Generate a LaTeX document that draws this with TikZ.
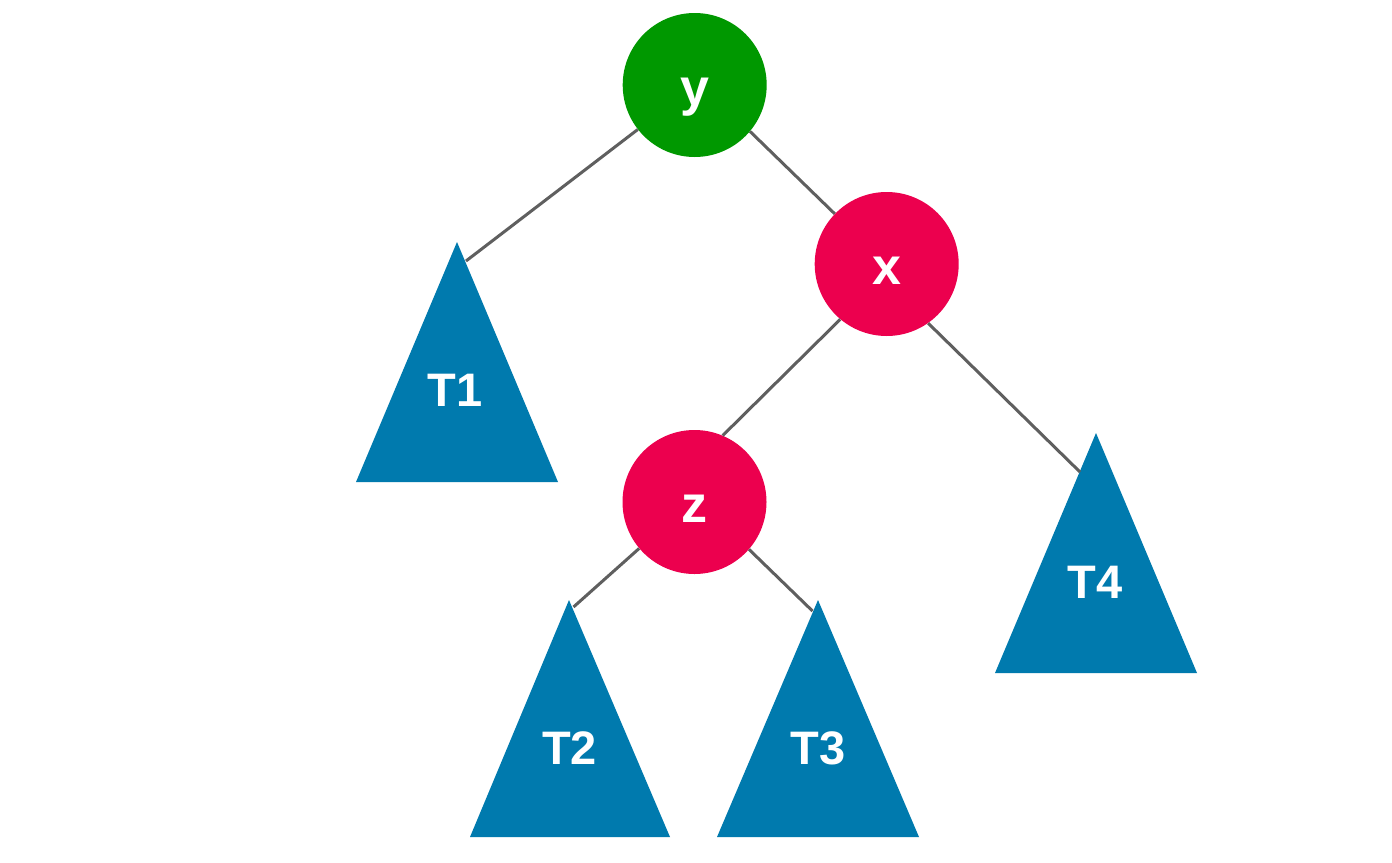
\documentclass[tikz,border=0pt]{standalone}
\usepackage{fontspec}
\setmainfont{Liberation Sans}
\definecolor{ngreen}{RGB}{0,152,0}
\definecolor{nred}{RGB}{236,0,78}
\definecolor{tblue}{RGB}{0,122,174}
\definecolor{edgegray}{RGB}{95,95,95}
\begin{document}
\begin{tikzpicture}[x=1pt,y=-1pt,
  keynode/.style={circle,minimum size=144pt,inner sep=0pt,text=white,
    text height=41pt,text depth=0pt,
    font=\fontsize{52}{56}\selectfont\bfseries},
  greennode/.style={keynode,fill=ngreen},
  rednode/.style={keynode,fill=nred},
  subtree/.style={fill=tblue},
  treelabel/.style={text=white,inner sep=0pt,font=\fontsize{47}{50}\selectfont\bfseries},
  link/.style={draw=edgegray,line width=3pt}]
\useasboundingbox[fill=white] (0,0) rectangle (1392,862);

% key nodes
\node[greennode] (y) at (694.7,85) {y};
\node[rednode] (x) at (886.7,264) {x};
\node[rednode] (z) at (694.5,502) {z};

% subtrees (triangles)
\fill[subtree] (457,242) -- (558,482) -- (356,482) -- cycle;
\node[treelabel] (T1) at (455,390) {T1};
\fill[subtree] (569,600) -- (670,837) -- (470,837) -- cycle;
\node[treelabel] (T2) at (569.5,748) {T2};
\fill[subtree] (818,600) -- (919,837) -- (717,837) -- cycle;
\node[treelabel] (T3) at (818,748) {T3};
\fill[subtree] (1096,433) -- (1197,673) -- (995,673) -- cycle;
\node[treelabel] (T4) at (1095,582) {T4};

% connector ends on the triangle edges
\coordinate (T1e) at (466,261);
\coordinate (T2e) at (573.5,607);
\coordinate (T3e) at (812.5,611);
\coordinate (T4e) at (1080,472);

% connectors
\draw[link] (y.218) -- (T1e);
\draw[link] (y.-40) -- (x.136);
\draw[link] (x.-130) -- (z.67);
\draw[link] (x.-55) -- (T4e);
\draw[link] (z.-140) -- (T2e);
\draw[link] (z.-41) -- (T3e);
\end{tikzpicture}
\end{document}
